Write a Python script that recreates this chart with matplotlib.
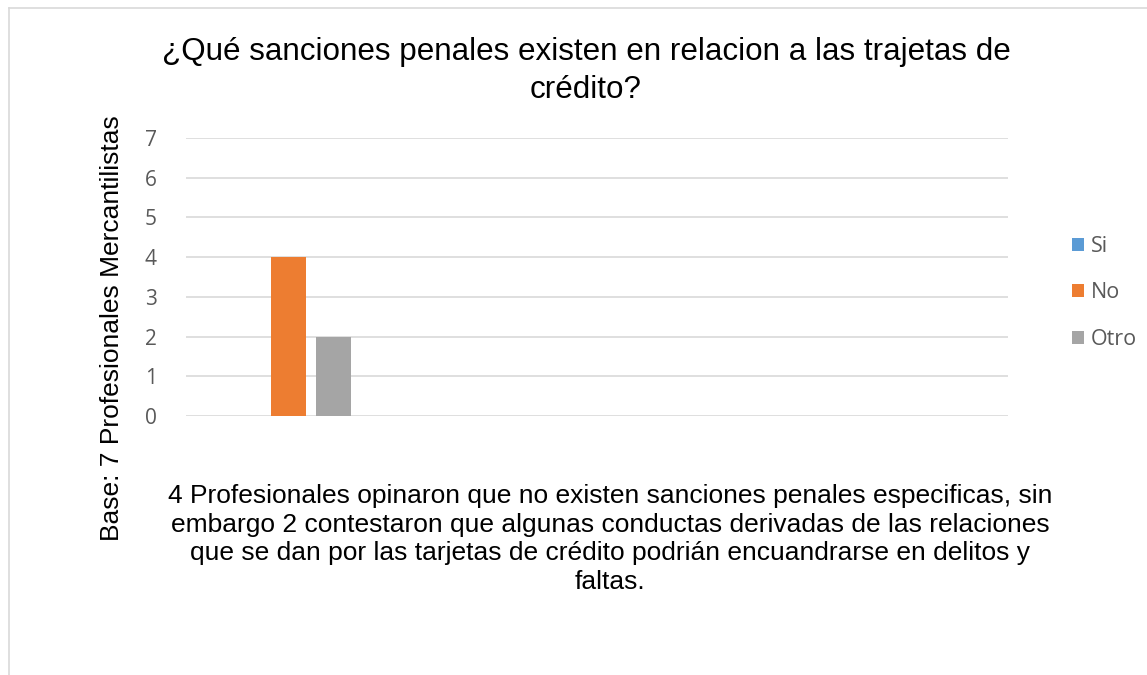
import numpy as np
import matplotlib.pyplot as plt
from matplotlib.lines import Line2D

# data
categories = ['', '', '', '']
series_names = ['Si', 'No', 'Otro']
si_values = [0, 0, 0, 0]
no_values = [4, 0, 0, 0]
otro_values = [2, 0, 0, 0]
colors = ['#5b9bd5', '#ed7d31', '#a5a5a5']

title = '¿Qué sanciones penales existen en relacion a las trajetas de\ncrédito?'
ylabel = 'Base: 7 Profesionales Mercantilistas'
note = ('4 Profesionales opinaron que no existen sanciones penales especificas, sin\n'
        'embargo 2 contestaron que algunas conductas derivadas de las relaciones\n'
        'que se dan por las tarjetas de crédito podrián encuandrarse en delitos y\n'
        'faltas.')

plt.rcParams['font.family'] = ['Liberation Sans', 'DejaVu Sans']

fig = plt.figure(figsize=(11.47, 6.75), dpi=100)
ax = fig.add_axes([186/1147, 1-416/675, 822/1147, 278/675])

x = np.arange(len(categories))
w = 0.17
step = 0.218
handles = []
for i, (name, vals) in enumerate(zip(series_names, [si_values, no_values, otro_values])):
    b = ax.bar(x + (i-1)*step, vals, width=w, color=colors[i], label=name, zorder=3)
    handles.append(b)

ax.set_xlim(-0.5, len(categories)-0.5)
ax.set_ylim(0, 7)
ax.set_yticks(range(0, 8))
ax.set_xticks([])
ax.grid(axis='y', color='#d9d9d9', linewidth=1.2, zorder=0)
for s in ax.spines.values():
    s.set_visible(False)
ax.tick_params(axis='y', length=0, pad=21, labelsize=15, labelcolor='#595959')
for t in ax.get_yticklabels():
    t.set_family(['Open Sans', 'DejaVu Sans'])

fig.text(586/1147, 1-71/675, title, ha='center', va='center', fontsize=22.6,
         linespacing=1.34)
fig.text(112/1147, 1-328/675, ylabel, rotation=90, ha='center', va='center', fontsize=19)
fig.text(610/1147, 1-539/675, note, ha='center', va='center', fontsize=19,
         linespacing=1.23)

leg = ax.legend(handles=handles, loc='center left', bbox_to_anchor=(1053/1147, 1-293/675),
                bbox_transform=fig.transFigure, frameon=False, handlelength=0.55,
                handleheight=0.55, handletextpad=0.3, labelspacing=1.2,
                prop={'family': 'Open Sans', 'size': 15.5})
for t in leg.get_texts():
    t.set_color('#595959')

# outer border
fig.add_artist(Line2D([9/1147, 1], [1-8/675, 1-8/675], color='#d9d9d9', lw=1.2,
                      transform=fig.transFigure))
fig.add_artist(Line2D([9/1147, 9/1147], [0, 1-8/675], color='#d9d9d9', lw=1.2,
                      transform=fig.transFigure))

fig.savefig('out.png', dpi=100)
